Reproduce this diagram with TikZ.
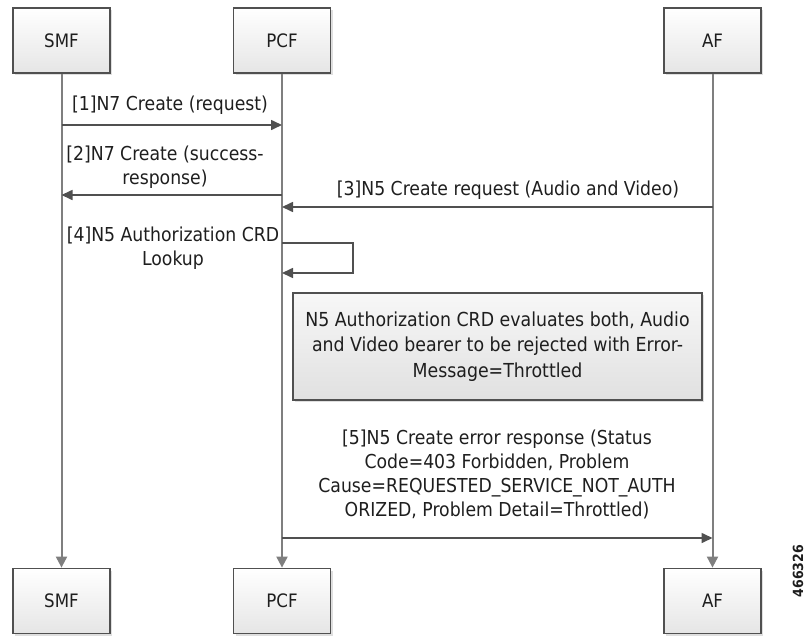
\documentclass[tikz,border=0pt]{standalone}
\usepackage{fontspec}
\setmainfont{DejaVu Sans Condensed}
\usetikzlibrary{arrows.meta,shadows}
\definecolor{lifegray}{HTML}{7F7F7F}
\definecolor{boxline}{HTML}{505050}
\definecolor{txt}{HTML}{1E1E1E}

\begin{document}
\begin{tikzpicture}
	[x=1pt,y=-1pt,
	 actor/.style={rectangle, draw=boxline, line width=1.8pt, top color=white, bottom color=black!10, minimum width=97pt, minimum height=65pt, text=txt, font=\fontsize{18.5}{20}\selectfont, drop shadow={shadow xshift=2pt, shadow yshift=-2pt, opacity=0.25}},
	 note/.style={rectangle, draw=boxline, line width=1.8pt, top color=black!3, bottom color=black!12, minimum width=409pt, minimum height=107pt, align=center, text=txt, font=\fontsize{19.3}{25.5}\selectfont, drop shadow={shadow xshift=2pt, shadow yshift=-2pt, opacity=0.25}},
	 life/.style={draw=lifegray, line width=2pt, -{Triangle[length=11pt,width=11pt]}},
	 msg/.style={draw=boxline, line width=1.6pt, -{Triangle[length=11pt,width=10pt]}},
	 lbl/.style={align=center, text=txt, inner sep=0pt, font=\fontsize{19.2}{24}\selectfont}]
	\useasboundingbox (0,0) rectangle (809,635);

	\node[actor] (smf) at (61.5,40.5) {SMF};
	\node[actor] (pcf) at (282,40.5) {PCF};
	\node[actor] (af) at (712.5,40.5) {AF};
	\node[actor] (smf2) at (61.5,601) {SMF};
	\node[actor] (pcf2) at (282,601) {PCF};
	\node[actor] (af2) at (712.5,601) {AF};

	\draw[life] (smf) -- (smf2);
	\draw[life] (pcf) -- (pcf2);
	\draw[life] (af) -- (af2);

	\coordinate (s1) at (61.5,125);  \coordinate (p1) at (282,125);
	\coordinate (s2) at (61.5,195);  \coordinate (p2) at (282,195);
	\coordinate (p3) at (282,207);   \coordinate (a3) at (712.5,207);
	\coordinate (p4) at (282,243);   \coordinate (p4b) at (282,273);
	\coordinate (p5) at (282,538);   \coordinate (a5) at (712.5,538);

	\draw[msg] (s1) -- (p1);
	\node[lbl] (l1) at (170,105) {[1]N7 Create (request)};
	\draw[msg] (p2) -- (s2);
	\node[lbl] (l2) at (165,167) {[2]N7 Create (success-\\response)};
	\draw[msg] (a3) -- (p3);
	\node[lbl] (l3) at (508,190) {[3]N5 Create request (Audio and Video)};
	\draw[msg] (p4) -- ++(71,0) |- (p4b);
	\node[lbl] (l4) at (173,248) {[4]N5 Authorization CRD\\Lookup};

	\node[note] (crd) at (497.5,346.5) {N5 Authorization CRD evaluates both, Audio\\and Video bearer to be rejected with Error-\\Message=Throttled};

	\node[lbl] (l5) at (497,474) {[5]N5 Create error response (Status\\Code=403 Forbidden, Problem\\Cause=REQUESTED\_SERVICE\_NOT\_AUTH\\ORIZED, Problem Detail=Throttled)};
	\draw[msg] (p5) -- (a5);

	\node[rotate=90, text=txt, font=\bfseries\fontsize{14}{16}\selectfont] (figid) at (798,571) {466326};
\end{tikzpicture}
\end{document}
